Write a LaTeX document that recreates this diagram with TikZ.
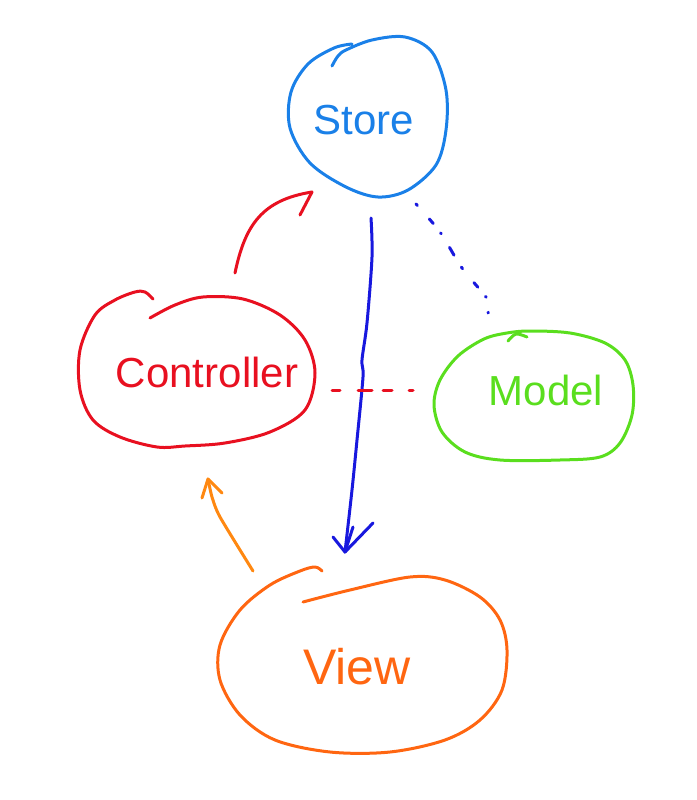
\documentclass[tikz,border=0pt]{standalone}
\usepackage{fontspec}
\setmainfont{Liberation Sans}
\definecolor{cstore}{RGB}{26,128,232}
\definecolor{carrow}{RGB}{24,24,222}
\definecolor{cred}{RGB}{232,16,32}
\definecolor{cgreen}{RGB}{90,222,30}
\definecolor{cview}{RGB}{255,102,17}
\definecolor{corange}{RGB}{255,136,17}
\tikzset{
  pen/.style={line width=3pt, line cap=round, line join=round},
  label/.style={inner sep=0pt, font=\fontsize{42}{48}\selectfont},
}
\begin{document}
\begin{tikzpicture}[x=1pt,y=-1pt]
\useasboundingbox (0,0) rectangle (696,800);
% ---- Store ----
\draw[pen,cstore] plot[smooth,tension=0.55] coordinates {(332,66) (338,56) (346,50) (372,40) (405,37) (432,52) (446,90) (446,130) (436,165) (408,190) (378,197) (346,187) (310,163) (290,128) (291,92) (308,64) (334,48) (352,44)};
\node[label,cstore] (store) at (364,120) {Store};
% ---- Controller ----
\draw[pen,cred] plot[smooth,tension=0.55] coordinates {(150,318) (175,305) (203,297) (243,299) (280,315) (305,340) (315,373) (305,410) (270,432) (225,443) (185,446) (157,447) (120,437) (93,420) (80,390) (80,350) (95,315) (115,300) (135,292) (145,292) (153,299)};
\node[label,cred] (ctrl) at (207,372) {Controller};
% ---- Model ----
\draw[pen,cgreen] plot[smooth,tension=0.55] coordinates {(508,341) (516,334) (527,337)};
\draw[pen,cgreen] plot[smooth cycle,tension=0.55] coordinates {(507,333) (484,339) (458,356) (440,380) (434,405) (442,432) (465,452) (500,460) (560,460) (600,457) (620,443) (632,415) (633,385) (625,360) (605,343) (570,333) (530,331)};
\node[label,cgreen] (model) at (546,390) {Model};
% ---- View ----
\draw[pen,cview] plot[smooth,tension=0.55] coordinates {(303,602) (350,590) (410,577) (445,580) (480,597) (500,620) (507,650) (502,690) (480,720) (445,740) (390,752) (330,752) (275,740) (240,715) (220,680) (220,645) (240,610) (270,585) (300,571) (315,567) (322,571)};
\node[label,cview,font=\fontsize{50}{56}\selectfont] (view) at (357,667) {View};
% ---- connector end points ----
\coordinate (sA) at (371,218);
\coordinate (vA) at (345,552);
\coordinate (cA) at (235,273);
\coordinate (sB) at (312,192);
\coordinate (vB) at (253,571);
\coordinate (cB) at (208,479);
\coordinate (sC) at (416,204);
\coordinate (mC) at (488,313);
\coordinate (cD) at (332,390);
\coordinate (mD) at (413,390);
% Store -> View
\draw[pen,carrow] plot[smooth,tension=0.5] coordinates {(sA) (372,257) (367,323) (362,360) (363,377) (357,440) (352,490) (vA)};
\draw[pen,carrow] (333,537) -- (vA) -- (373,523);
\draw[pen,carrow] (vA) -- (353,527);
% Controller -> Store
\draw[pen,cred] (cA) .. controls (245,225) and (262,200) .. (sB);
\draw[pen,cred] (sB) -- (300,215);
% View -> Controller
\draw[pen,corange] plot[smooth,tension=0.4] coordinates {(vB) (220,517) (212,497) (cB)};
\draw[pen,corange] (202,498) -- (cB) -- (222,493);
% Store ... Model
\draw[pen,carrow,dash pattern=on 2pt off 18pt on 6pt off 12pt on 1pt off 16pt on 9pt off 14pt] plot[smooth,tension=0.5] coordinates {(sC) (440,232) (462,268) (488,300) (mC)};
% Controller - - Model
\draw[pen,cred,dash pattern=on 8pt off 18pt on 14pt off 11pt on 9pt off 17pt] (cD) -- (mD);
\end{tikzpicture}
\end{document}
